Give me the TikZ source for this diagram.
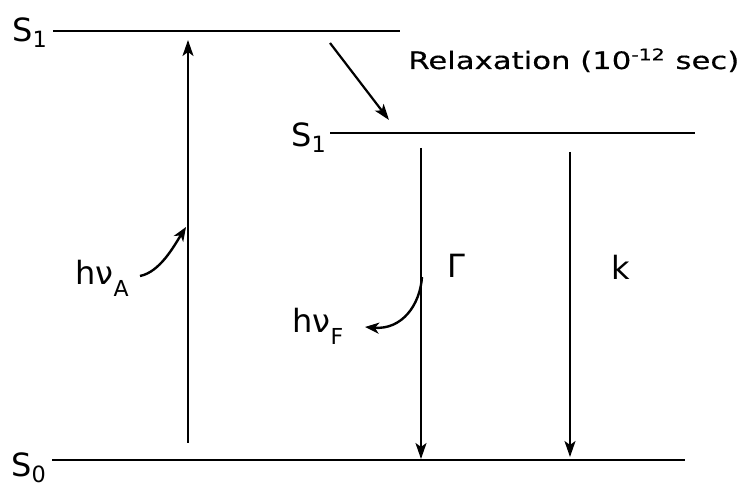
\documentclass[tikz,border=0pt]{standalone}
\usepackage{fontspec}
\setmainfont{DejaVu Sans}
\newfontfamily\widefont[FakeStretch=1.28,FakeBold=0.4]{DejaVu Sans}
\usetikzlibrary{arrows.meta,positioning}

\newcommand{\lowsub}[1]{\raisebox{-6pt}{\fontsize{11}{11}\selectfont #1}}

\begin{document}
\begin{tikzpicture}[x=0.5pt,y=-0.5pt,
    level/.style={line width=1.3pt},
    trans/.style={line width=1.1pt,-{Stealth[length=8pt,width=5.5pt,inset=2pt]}},
    curl/.style={line width=1.2pt,-{Stealth[length=7pt,width=5.5pt,inset=2pt]}},
    lbl/.style={font=\fontsize{16}{18}\selectfont,inner sep=0pt,anchor=base west}]
    \useasboundingbox (0,0) rectangle (756,486);

    % Energy levels
    \coordinate (upA) at (53,31);   \coordinate (upB) at (400,31);
    \coordinate (lowA) at (330,133); \coordinate (lowB) at (695,133);
    \coordinate (gndA) at (52,460); \coordinate (gndB) at (685,460);
    \draw[level] (upA) -- (upB);
    \draw[level] (lowA) -- (lowB);
    \draw[level] (gndA) -- (gndB);
    \node[lbl] (s1up) at (12,42) {S\textsubscript{1}};
    \node[lbl] (s1low) at (291,147) {S\textsubscript{1}};
    \node[lbl] (s0) at (11,477) {S\textsubscript{0}};

    % Absorption
    \coordinate (absBot) at (188,443);
    \coordinate (absTop) at (188,40);
    \draw[trans] (absBot) -- (absTop);
    \node[lbl] (hvA) at (75,285) {hν\lowsub{A}};
    \coordinate (hvAend) at (186,227);
    \draw[curl] (140,276) .. controls (160,272) and (174,246) .. (hvAend);

    % Relaxation
    \coordinate (relA) at (330,43);
    \coordinate (relB) at (389,120);
    \draw[trans] (relA) -- (relB);
    \node[inner sep=0pt,anchor=base west,font=\widefont\fontsize{12}{14}\selectfont]
      (relax) at (408,69) {Relaxation (10\textsuperscript{-12} sec)};

    % Decay from the relaxed level
    \coordinate (fluTop) at (421,148);
    \coordinate (fluBot) at (421,459);
    \draw[trans] (fluTop) -- (fluBot);
    \node[lbl] (gam) at (447,278) {Γ};
    \coordinate (kTop) at (570,152);
    \coordinate (kBot) at (570,457);
    \draw[trans] (kTop) -- (kBot);
    \node[lbl] (kk) at (611,280) {k};

    % Emission
    \coordinate (hvFstart) at (422,277);
    \draw[curl] (hvFstart) .. controls (420,305) and (402,330) .. (365,327);
    \node[lbl] (hvF) at (292,333) {hν\lowsub{F}};
\end{tikzpicture}
\end{document}
